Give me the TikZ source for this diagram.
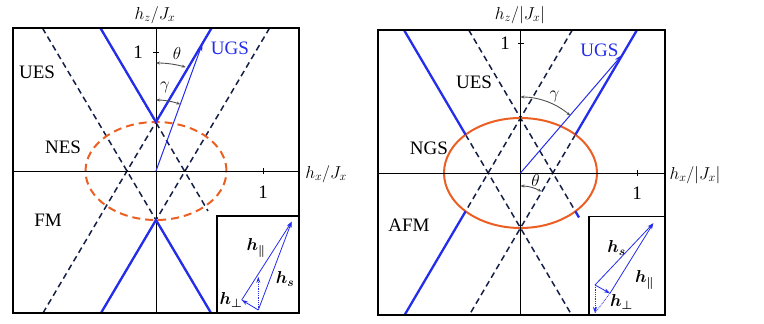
\documentclass[tikz,border=0pt]{standalone}
\usepackage{amsmath,amssymb,bm}
\usepackage{fontspec}
\setmainfont{Liberation Serif}
\usetikzlibrary{arrows.meta}
\definecolor{gsblue}{RGB}{35, 45, 235}
\definecolor{esnavy}{RGB}{20, 30, 70}
\definecolor{rimorange}{RGB}{235, 95, 35}
\definecolor{arcgray}{RGB}{80, 80, 80}

\begin{document}
\begin{tikzpicture}[x=1pt, y=1pt, font=\fontsize{17}{20}\selectfont,
    frame/.style={line width=1.6pt},
    axis/.style={line width=0.6pt},
    boundary/.style={gsblue, line width=2.3pt},
    crossline/.style={esnavy, line width=1.5pt, dash pattern=on 6pt off 4pt},
    angarc/.style={arcgray, line width=0.9pt, {Stealth[length=4pt]}-{Stealth[length=4pt]}},
    vec/.style={gsblue, line width=0.8pt, -{Stealth[length=6pt, width=4pt]}},
    hvec/.style={gsblue, line width=1pt, -{Stealth[length=8pt, width=5pt]}},
    region/.style={font=\fontsize{19}{22}\selectfont},
    inset/.style={frame, fill=white}]
    \useasboundingbox (0,0) rectangle (764,324);

    % Left panel: h_z/J_x against h_x/J_x
    \begin{scope}[shift={(156,153)}]
        \draw[crossline] (-113.6,143) -- (55,-142);
        \draw[crossline] (113.6,143) -- (-55,-142);
        \draw[crossline] (-113,-142) -- (55.6,143);
        \draw[crossline] (-55.6,143) -- (52,-40);
        \draw[rimorange, line width=2pt, dash pattern=on 8pt off 5pt] (0,0) ellipse [x radius=70.5, y radius=49];
        \draw[axis] (-143,0) -- (143,0);
        \draw[axis] (0,-142) -- (0,143);
        \draw[axis] (107,-3) -- (107,3);
        \draw[axis] (-3,119) -- (3,119);
        \draw[boundary] (-55.6,143) -- (0,49) -- (55.6,143);
        \draw[boundary] (-55,-142) -- (0,-49) -- (55,-142);
        \coordinate (lO) at (0,0);
        \coordinate (lU) at (46.5,127.7);
        \draw[hvec] (lO) -- (lU);
        \draw[angarc] (90:108) arc [start angle=90, end angle=74, radius=108];
        \draw[angarc] (90:71) arc [start angle=90, end angle=70, radius=71];
        \node (lth) at (21,117) {$\theta$};
        \node (lga) at (9,84) {$\gamma$};
        \node[region, gsblue] (lugs) at (74,123) {UGS};
        \node[region] (lues) at (-119,99) {UES};
        \node[region] (lnes) at (-93,24) {NES};
        \node[region] (lfm) at (-108,-49) {FM};
        \node[region] (lone) at (-18,119) {1};
        \node[region] (lxone) at (107,-21) {1};
        % inset
        \draw[inset] (60.7,-142) rectangle (143,-45);
        \coordinate (lP) at (102.3,-139);
        \coordinate (lT) at (135.7,-50.7);
        \coordinate (lQ) at (85.7,-129);
        \coordinate (lD) at (102.3,-105.7);
        \draw[vec] (lP) -- (lT);
        \draw[vec] (lQ) -- (lT);
        \draw[vec] (lP) -- (lQ);
        \draw[vec, densely dotted] (lP) -- (lD);
        \node (lhs) at (129,-108) {$\bm{h}_{\bm{s}}$};
        \node (lhpar) at (100,-77) {$\bm{h}_{\bm{\parallel}}$};
        \node (lhperp) at (75,-129) {$\bm{h}_{\bm{\perp}}$};
        \draw[frame] (-143,-142) rectangle (143,143);
    \end{scope}
    \node (lzlab) at (155,309) {$h_z/J_x$};
    \node (lxlab) at (326,150) {$h_x/J_x$};

    % Right panel: h_z/|J_x| against h_x/|J_x|
    \begin{scope}[shift={(520.5,151)}]
        \draw[crossline] (-54.89,38.3) -- (51.2,-142);
        \draw[crossline] (54.89,38.3) -- (-51.2,-142);
        \draw[crossline] (-51.8,143) -- (54.89,-38.3);
        \draw[crossline] (51.8,143) -- (-54.89,-38.3);
        \draw[rimorange, line width=2pt] (0,0) ellipse [x radius=76.5, y radius=55];
        \draw[axis] (-142.8,0) -- (144.5,0);
        \draw[axis] (0,-142) -- (0,143);
        \draw[axis] (116.5,-3) -- (116.5,3);
        \draw[axis] (-3,130) -- (3,130);
        \draw[boundary] (-116.5,143) -- (-54.89,38.3);
        \draw[boundary] (116.5,143) -- (54.89,38.3);
        \draw[boundary] (-54.89,-38.3) -- (-115.9,-142);
        \draw[boundary] (54.89,-38.3) -- (58.5,-44.5);
        \coordinate (rO) at (0,0);
        \coordinate (rU) at (101.5,118);
        \draw[hvec] (rO) -- (rU);
        \draw[angarc] (90:76) arc [start angle=90, end angle=49, radius=76];
        \draw[angarc] (0,-13) arc [start angle=90, end angle=60, radius=42];
        \node (rth) at (15,-8) {$\theta$};
        \node (rga) at (34,77) {$\gamma$};
        \node[region, gsblue] (rugs) at (79,123) {UGS};
        \node[region] (rues) at (-46.5,91) {UES};
        \node[region] (rngs) at (-91.5,25) {NGS};
        \node[region] (rafm) at (-111.5,-52) {AFM};
        \node[region] (rone) at (-15.5,130) {1};
        \node[region] (rxone) at (116.5,-20) {1};
        % inset
        \draw[inset] (68.2,-142) rectangle (144.5,-43.7);
        \coordinate (rP) at (74.5,-112);
        \coordinate (rT) at (132.8,-50.3);
        \coordinate (rQ) at (89.5,-120.3);
        \coordinate (rB) at (74.5,-140);
        \draw[vec] (rP) -- (rT);
        \draw[vec] (rQ) -- (rT);
        \draw[vec] (rP) -- (rQ);
        \draw[vec, densely dotted] (rP) -- (rB);
        \draw[gsblue, line width=0.8pt, densely dotted] (rQ) -- (rB);
        \node (rhs) at (96,-75) {$\bm{h}_{\bm{s}}$};
        \node (rhpar) at (124,-107) {$\bm{h}_{\bm{\parallel}}$};
        \node (rhperp) at (101,-129) {$\bm{h}_{\bm{\perp}}$};
        \draw[frame] (-142.8,-142) rectangle (144.5,143);
    \end{scope}
    \node (rzlab) at (520,309) {$h_z/|J_x|$};
    \node (rxlab) at (695,149) {$h_x/|J_x|$};
\end{tikzpicture}
\end{document}
